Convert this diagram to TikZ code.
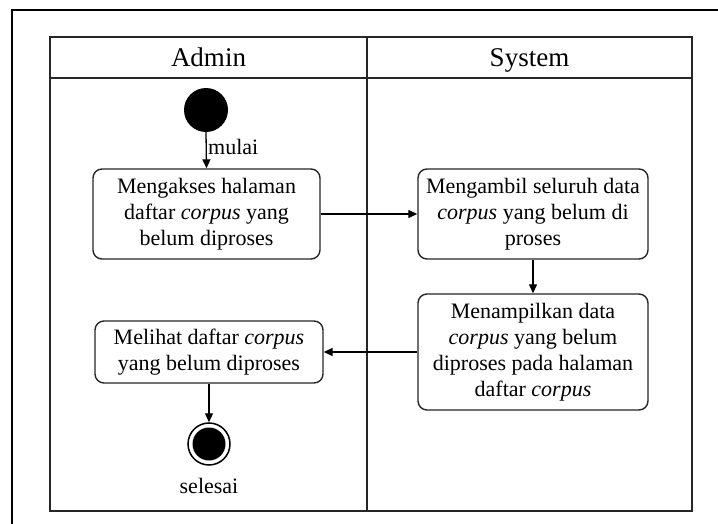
\documentclass[tikz,border=0pt]{standalone}
\usepackage{fontspec}
\setmainfont{Liberation Serif}
\usetikzlibrary{arrows.meta}
\begin{document}
\begin{tikzpicture}[x=1pt,y=-1pt,
  lane/.style={draw=black!85, line width=1.6pt},
  act/.style={draw=black!85, line width=1.4pt, rounded corners=9pt, align=center, inner sep=0pt,
    font=\fontsize{22}{26}\selectfont},
  flow/.style={line width=1.3pt, -{Triangle[length=9pt,width=8pt]}},
  lbl/.style={font=\fontsize{22}{26}\selectfont, inner sep=0pt},
  head/.style={font=\fontsize{27}{30}\selectfont, inner sep=0pt, anchor=base}]
\useasboundingbox (0,0) rectangle (718,524);
\fill[white] (0,0) rectangle (718,524);
% outer frame (partly visible)
\draw[line width=2pt] (12,524) -- (12,10) -- (718,10);
% swimlanes
\draw[lane] (50,37) rectangle (692,511);
\draw[lane] (50,78) -- (692,78);
\draw[lane] (367,37) -- (367,511);
\node[head] (hA) at (208.5,67) {Admin};
\node[head] (hS) at (529.5,67) {System};
% start
\node[circle, fill=black, minimum size=44pt, inner sep=0pt] (start) at (206,110) {};
% activities
\node[act, minimum width=227pt, minimum height=90pt] (a1) at (206.5,214)
  {Mengakses halaman\\daftar \textit{corpus} yang\\belum diproses};
\node[act, minimum width=230pt, minimum height=90pt] (a2) at (533,214)
  {Mengambil seluruh data\\\textit{corpus} yang belum di\\proses};
\node[act, minimum width=230pt, minimum height=116pt] (a3) at (533,352)
  {Menampilkan data\\\textit{corpus} yang belum\\diproses pada halaman\\daftar \textit{corpus}};
\node[act, minimum width=228pt, minimum height=62pt] (a4) at (209,352)
  {Melihat daftar \textit{corpus}\\yang belum diproses};
% end
\node[circle, draw=black, line width=1.5pt, minimum size=42pt, inner sep=0pt] (end) at (209,444) {};
\fill (end.center) circle (16.5pt);
\node[lbl] (sel) at (209,486) {selesai};
% flows
\draw[flow] (start.south) -- (a1.north);
\node[lbl, anchor=west] (mul) at (208,147) {mulai};
\draw[flow] (a1.east) -- (a2.west);
\draw[flow] (a2.south) -- (a3.north);
\draw[flow] (a3.west) -- (a4.east);
\draw[flow] (a4.south) -- (end.north);
\end{tikzpicture}
\end{document}
